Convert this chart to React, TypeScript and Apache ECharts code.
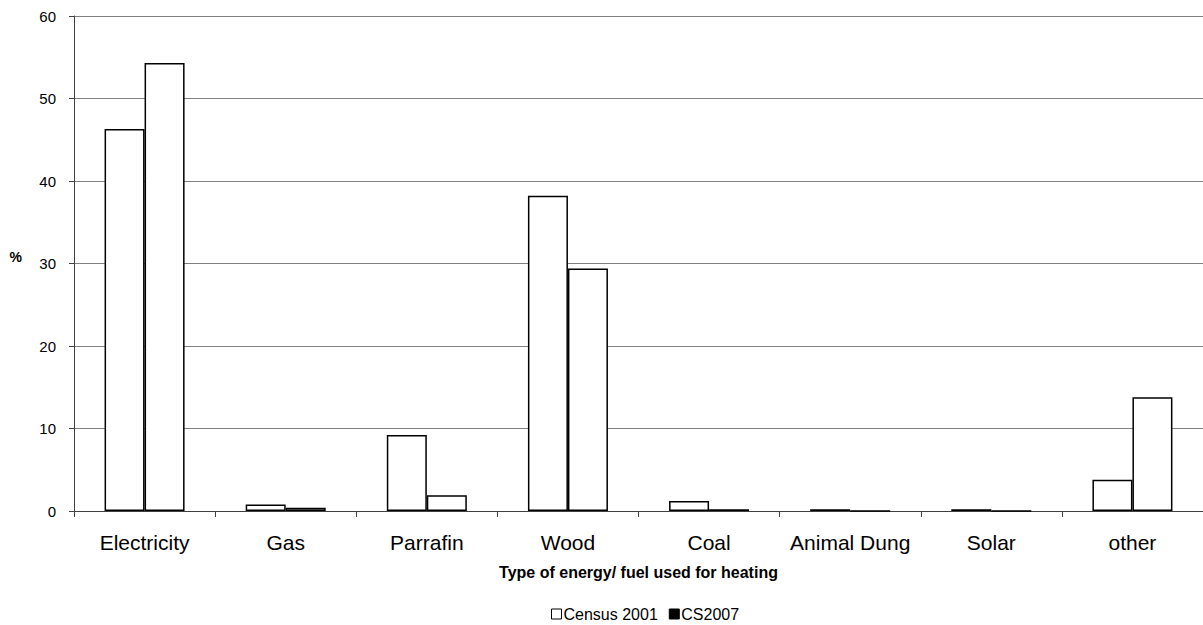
import React, { useEffect, useRef } from "react";
import * as echarts from "echarts";

const categories = ["Electricity", "Gas", "Parrafin", "Wood", "Coal", "Animal Dung", "Solar", "other"];
const census2001 = [46.3, 0.8, 9.2, 38.2, 1.2, 0.2, 0.2, 3.8];
const cs2007 = [54.3, 0.4, 1.9, 29.4, 0.2, 0, 0, 13.8];
const yTicks = [0, 10, 20, 30, 40, 50, 60];

export default function App() {
  const ref = useRef<HTMLDivElement>(null);
  useEffect(() => {
    if (!ref.current) return;
    const chart = echarts.init(ref.current, null, { renderer: "svg" });
    const font = "'Liberation Sans', Arial, sans-serif";
    chart.setOption({
      animation: false,
      backgroundColor: "#fff",
      textStyle: { fontFamily: font },
      grid: { left: 74, right: 0, top: 16, bottom: 114, containLabel: false },
      legend: {
        top: 601,
        left: 546,
        icon: "rect",
        itemWidth: 10,
        itemHeight: 10,
        itemGap: 11,
        selectedMode: false,
        textStyle: { fontSize: 16, color: "#000", fontFamily: font, padding: [0, 0, 0, -3] },
        data: [
          { name: "Census 2001", itemStyle: { color: "#fff", borderColor: "#000", borderWidth: 1 } },
          { name: "CS2007", itemStyle: { color: "#000", borderColor: "#000", borderWidth: 1 } },
        ],
      },
      xAxis: {
        type: "category",
        data: categories,
        name: "Type of energy/ fuel used for heating",
        nameLocation: "middle",
        nameGap: 53,
        nameTextStyle: { fontSize: 16, fontWeight: "bold", color: "#000", fontFamily: font },
        axisLine: { lineStyle: { color: "#404040", width: 1 } },
        axisTick: { show: true, alignWithLabel: false, length: 6, lineStyle: { color: "#404040" } },
        axisLabel: { fontSize: 21, color: "#000", margin: 21, fontFamily: font, interval: 0 },
      },
      yAxis: {
        type: "value",
        min: 0,
        max: 60,
        interval: 10,
        name: "%",
        nameLocation: "middle",
        nameGap: 52,
        nameRotate: 0,
        nameTextStyle: {
          fontSize: 14,
          fontWeight: "bold",
          color: "#000",
          fontFamily: font,
          verticalAlign: "bottom",
        },
        axisLine: { show: true, lineStyle: { color: "#404040", width: 1 } },
        axisTick: { show: true, inside: false, length: 5, lineStyle: { color: "#404040" } },
        axisLabel: {
          fontSize: 15,
          color: "#000",
          margin: 18,
          fontFamily: font,
          formatter: (v: number) => (yTicks.includes(v) ? String(v) : ""),
        },
        splitLine: { show: true, lineStyle: { color: "#808080", width: 1 } },
      },
      series: [
        {
          name: "Census 2001",
          type: "bar",
          data: census2001,
          barWidth: 40,
          barGap: "0%",
          itemStyle: { color: "#fff", borderColor: "#000", borderWidth: 1.5 },
        },
        {
          name: "CS2007",
          type: "bar",
          data: cs2007,
          barWidth: 40,
          barGap: "0%",
          itemStyle: { color: "#fff", borderColor: "#000", borderWidth: 1.5 },
        },
      ],
    });
    return () => chart.dispose();
  }, []);
  return (
    <div
      ref={ref}
      style={{ position: "fixed", left: 0, top: 0, width: 1203, height: 625, background: "#fff" }}
    />
  );
}
